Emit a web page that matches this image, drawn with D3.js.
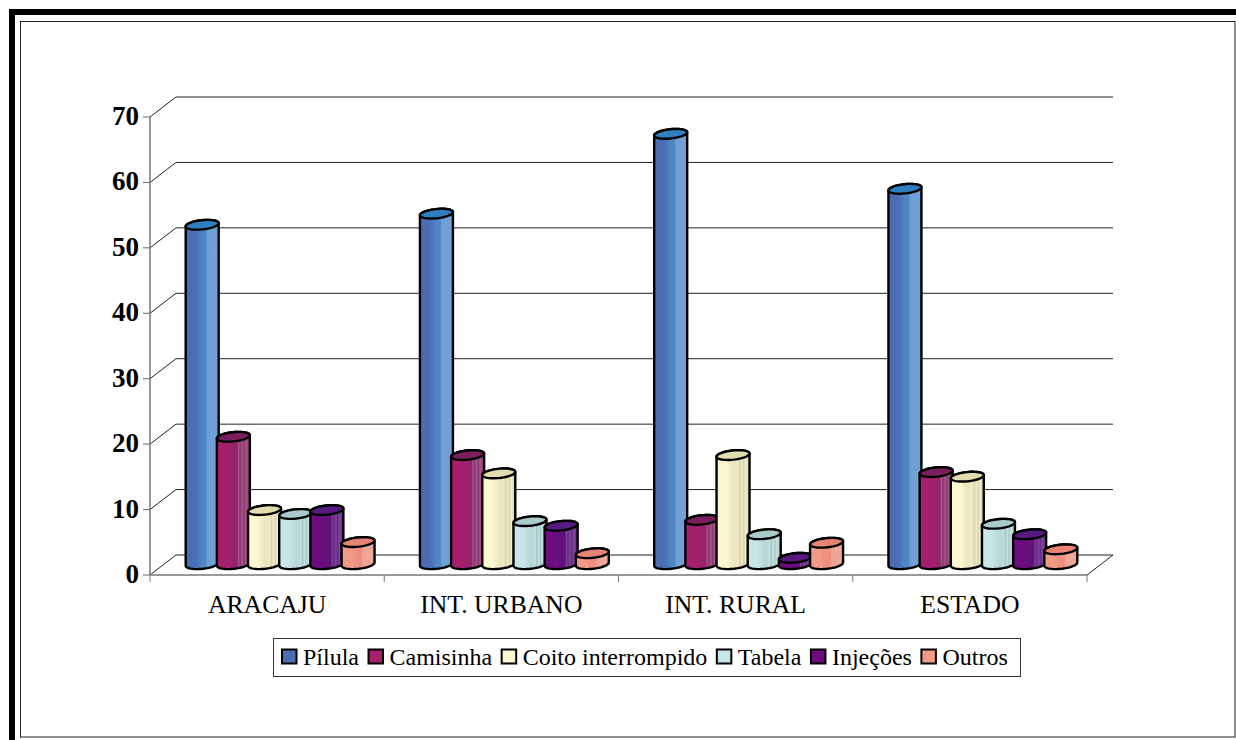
<!DOCTYPE html>
<html>
<head>
<meta charset="utf-8">
<script src="https://cdn.jsdelivr.net/npm/d3@7"></script>
<style>
  html, body { margin: 0; padding: 0; background: #fff; }
  svg { display: block; }
  text { font-family: "Liberation Serif", "Times New Roman", serif; fill: #000; }
</style>
</head>
<body>
<svg id="chart" width="1236" height="740"></svg>
<script>
// Métodos contraceptivos por região
const categories = ["ARACAJU", "INT. URBANO", "INT. RURAL", "ESTADO"];
const seriesNames = ["Pílula", "Camisinha", "Coito interrompido", "Tabela", "Injeções", "Outros"];
const pilula    = [52, 53.7, 65.9, 57.5];
const camisinha = [19.6, 16.8, 6.9, 14.2];
const coito     = [8.4, 14, 16.8, 13.5];
const tabela    = [7.8, 6.7, 4.7, 6.3];
const injecoes  = [8.4, 6, 1.1, 4.7];
const outros    = [3.5, 1.8, 3.4, 2.4];
const yTicks = [0, 10, 20, 30, 40, 50, 60, 70];

const seriesValues = [pilula, camisinha, coito, tabela, injecoes, outros];

// left, mid, right shades of each cylinder plus its top-cap colour
const palette = [
  { light: "#4a6db3", mid: "#4f86c6", right: "#6a9fd8", cap: "#2f7fc0", key: "#4a6db3" },
  { light: "#a61e6c", mid: "#97246a", right: "#7f3a6e", cap: "#7b1f5c", key: "#a61e6c" },
  { light: "#fbf7d2", mid: "#ece7bd", right: "#d8d3a8", cap: "#e2dcae", key: "#fdf8d2" },
  { light: "#c8e6e6", mid: "#b8d8d8", right: "#a6c6c6", cap: "#a9cbcb", key: "#c8e6e6" },
  { light: "#6c0c80", mid: "#62107c", right: "#5a2a86", cap: "#561a80", key: "#6c0c80" },
  { light: "#f29a88", mid: "#ee9080", right: "#e8a494", cap: "#e88474", key: "#f29a88" }
];

const svg = d3.select("#chart");
const width = 1236, height = 740;

// Frame around the figure: heavy outer rule and thin inner box
const frame = svg.append("g");
frame.append("rect").attr("x", 9).attr("y", 9).attr("width", width).attr("height", 6).attr("fill", "#000");
frame.append("rect").attr("x", 9).attr("y", 9).attr("width", 6).attr("height", height).attr("fill", "#000");
frame.append("rect").attr("x", 20.5).attr("y", 21.5).attr("width", 1214.5).attr("height", 715.5)
  .attr("fill", "#fff").attr("stroke", "#222").attr("stroke-width", 1);

// Plot geometry: front plane of the 3D box and its depth offset
const front = { left: 150, right: 1087, bottom: 575, top: 117 };
const depth = { x: 26, y: -20 };

const y = d3.scaleLinear().domain([0, 70]).range([front.bottom, front.top]);
const x0 = d3.scaleBand().domain(categories).range([front.left, front.right]);
const x1 = d3.scaleBand().domain(d3.range(seriesNames.length))
  .range([0, x0.bandwidth()]).paddingOuter(0.757).paddingInner(0);

// Gridlines: back wall plus the diagonal running to the front axis
const grid = svg.append("g");
grid.selectAll("polyline.grid").data(yTicks).join("polyline")
  .attr("class", "grid")
  .attr("fill", "none")
  .attr("stroke", "#222").attr("stroke-width", 1)
  .attr("points", d => [
    [front.left, y(d)],
    [front.left + depth.x, y(d) + depth.y],
    [front.right + depth.x, y(d) + depth.y]
  ].join(" "));
grid.append("line")
  .attr("x1", front.right).attr("x2", front.right + depth.x)
  .attr("y1", y(0)).attr("y2", y(0) + depth.y)
  .attr("stroke", "#222");

// Value axis
svg.append("line").attr("x1", front.left).attr("x2", front.left)
  .attr("y1", y(70)).attr("y2", y(0)).attr("stroke", "#777").attr("stroke-width", 1.5);
svg.selectAll("line.ytick").data(yTicks).join("line")
  .attr("class", "ytick")
  .attr("x1", front.left - 7).attr("x2", front.left)
  .attr("y1", d => y(d)).attr("y2", d => y(d))
  .attr("stroke", "#666").attr("stroke-width", 1);
svg.selectAll("text.ylab").data(yTicks).join("text")
  .attr("class", "ylab")
  .attr("x", front.left - 11)
  .attr("y", d => y(d) + 8)
  .attr("text-anchor", "end")
  .attr("font-size", 27).attr("font-weight", "bold")
  .text(d => d);

// Category axis
svg.append("line").attr("x1", front.left).attr("x2", front.right)
  .attr("y1", y(0)).attr("y2", y(0)).attr("stroke", "#777").attr("stroke-width", 1.5);
const boundaries = categories.map(c => x0(c)).concat(front.right);
svg.selectAll("line.xtick").data(boundaries).join("line")
  .attr("class", "xtick")
  .attr("x1", d => d).attr("x2", d => d)
  .attr("y1", y(0)).attr("y2", y(0) + 7)
  .attr("stroke", "#777").attr("stroke-width", 1);
svg.selectAll("text.xlab").data(categories).join("text")
  .attr("class", "xlab")
  .attr("x", d => x0(d) + x0.bandwidth() / 2)
  .attr("y", 613)
  .attr("text-anchor", "middle")
  .attr("font-size", 25.7)
  .text(d => d);

// Banded horizontal gradients that give the cylinders their faceted shine
const defs = svg.append("defs");
palette.forEach((p, i) => {
  const g = defs.append("linearGradient").attr("id", "cyl" + i)
    .attr("x1", 0).attr("x2", 1).attr("y1", 0).attr("y2", 0);
  const shine = d3.interpolateRgb(p.mid, "#ffffff")(0.22);
  [[0, p.light], [0.3, p.light], [0.5, p.mid], [0.62, p.mid], [0.66, shine],
   [0.7, p.right], [0.78, shine], [0.82, p.right], [0.88, shine], [1, p.right]]
    .forEach(([o, c]) => g.append("stop").attr("offset", o).attr("stop-color", c));
});

// Cylinders traced as tilted ellipse outlines; the base sits midway through the floor's depth
const barWidth = x1.bandwidth() + 2;
const rx = barWidth / 2, ry = 4.6, tilt = -6 * Math.PI / 180;
const outline = d3.line();
const rimPoint = (cx, cy, t) => {
  const ex = rx * Math.cos(t), ey = ry * Math.sin(t);
  return [cx + ex * Math.cos(tilt) - ey * Math.sin(tilt),
          cy + ex * Math.sin(tilt) + ey * Math.cos(tilt)];
};
// half-turn sweeps along the rim, from the right end round to the left end
const frontArc = (cx, cy) => d3.range(0, 25).map(i => rimPoint(cx, cy, i / 24 * Math.PI));
const backArc = (cx, cy) => d3.range(0, 25).map(i => rimPoint(cx, cy, -i / 24 * Math.PI));

const bars = svg.append("g");
categories.forEach((c, ci) => {
  seriesNames.forEach((s, si) => {
    const cx = x0(c) + x1(si) + x1.bandwidth() / 2 + depth.x / 2;
    const baseY = y(0) + depth.y / 2 - 0.8;
    const topY = y(seriesValues[si][ci]) + depth.y / 2;
    const g = bars.append("g");
    g.append("path")
      .attr("d", outline([...backArc(cx, topY), ...frontArc(cx, baseY).reverse()]) + "Z")
      .attr("fill", `url(#cyl${si})`)
      .attr("stroke", "#000").attr("stroke-width", 2.4).attr("stroke-linejoin", "round");
    g.append("path")
      .attr("d", outline(d3.range(0, 48).map(i => rimPoint(cx, topY, i / 48 * 2 * Math.PI))) + "Z")
      .attr("fill", palette[si].cap)
      .attr("stroke", "#000").attr("stroke-width", 2.4);
  });
});

// Legend: swatch and label laid out in a single row
const legend = svg.append("g");
legend.append("rect").attr("x", 273.5).attr("y", 638.5).attr("width", 747).attr("height", 38)
  .attr("fill", "#fff").attr("stroke", "#333").attr("stroke-width", 1);
let cursor = 282;
seriesNames.forEach((name, i) => {
  legend.append("rect")
    .attr("x", cursor).attr("y", 649.5).attr("width", 14.5).attr("height", 14)
    .attr("fill", palette[i].key)
    .attr("stroke", "#000").attr("stroke-width", 2);
  const label = legend.append("text")
    .attr("x", cursor + 21).attr("y", 665)
    .attr("font-size", 24)
    .text(name);
  cursor += 21 + label.node().getComputedTextLength() + 9.5;
});
</script>
</body>
</html>
